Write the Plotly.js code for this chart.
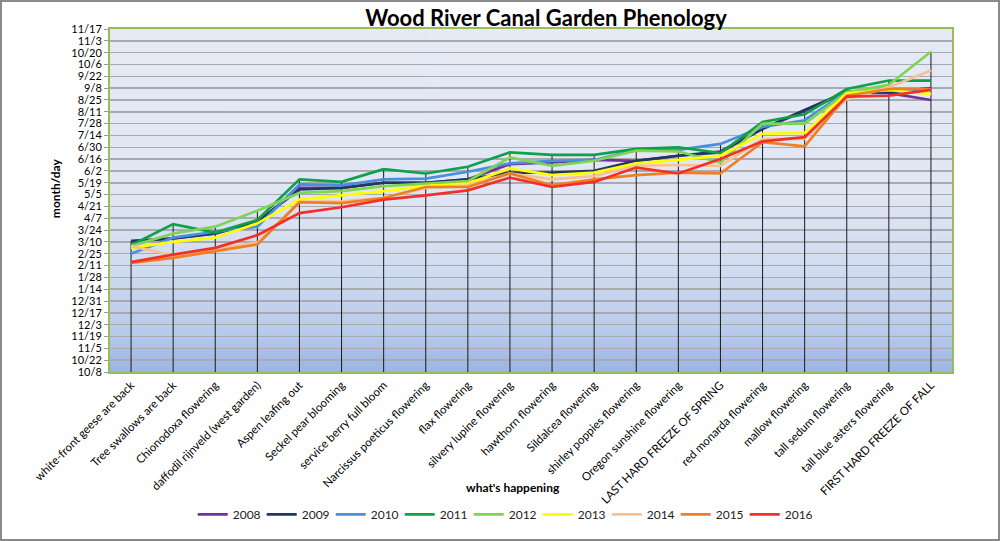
<!DOCTYPE html>
<html>
<head>
<meta charset="utf-8">
<script src="https://cdn.plot.ly/plotly-3.0.1.min.js"></script>
<style>
  html, body { margin: 0; padding: 0; background: #ffffff; }
  #wrap { position: relative; width: 1000px; height: 541px; }
  #chart { width: 1000px; height: 541px; }
  #frame { position: absolute; left: 0; top: 0; width: 1000px; height: 541px; box-sizing: border-box; border: 2px solid #8a8a8a; pointer-events: none; }
</style>
</head>
<body>
<div id="wrap"><div id="chart"></div><div id="frame"></div></div>
<script>
// ---- data ----
const categories = [
  "white-front geese are back",
  "Tree swallows are back",
  "Chionodoxa flowering",
  "daffodil rijnveld (west garden)",
  "Aspen leafing out",
  "Seckel pear blooming",
  "service berry full bloom",
  "Narcissus poeticus flowering",
  "flax flowering",
  "silvery lupine flowering",
  "hawthorn flowering",
  "Sildalcea flowering",
  "shirley poppies flowering",
  "Oregon sunshine flowering",
  "LAST HARD FREEZE OF SPRING",
  "red monarda flowering",
  "mallow flowering",
  "tall sedum flowering",
  "tall blue asters flowering",
  "FIRST HARD FREEZE OF FALL"
];

const years = ["2008","2009","2010","2011","2012","2013","2014","2015","2016"];

// month/day values (plotted on a common calendar year)
const y2008 = ["3/11","3/14","3/20","4/2","5/13","5/13","5/19","5/19","5/23","6/10","6/12","6/15","6/14","6/20","6/24","7/22","8/12","9/3","9/2","8/25"];
const y2009 = ["3/11","3/14","3/20","4/3","5/11","5/13","5/19","5/19","5/23","5/31","5/31","6/2","6/14","6/20","6/25","7/22","8/13","9/4","9/3","9/8"];
const y2010 = ["2/25","3/15","3/22","3/28","5/17","5/16","5/23","5/24","6/1","6/11","6/14","6/15","6/27","6/27","7/4","7/24","8/1","9/4","9/5","9/7"];
const y2011 = ["3/6","3/31","3/21","4/5","5/23","5/20","6/4","5/30","6/7","6/24","6/21","6/21","6/28","6/30","6/23","7/30","8/8","9/7","9/17","9/17"];
const y2012 = ["3/5","3/20","3/28","4/16","5/7","5/9","5/15","5/18","5/21","6/18","6/8","6/14","6/26","6/25","6/12","7/28","7/28","9/3","9/12","10/21"];
const y2013 = ["3/3","3/10","3/15","4/1","4/29","5/4","5/9","5/15","5/18","6/5","5/28","5/31","6/11","6/15","6/20","7/16","7/17","9/2","9/6","9/1"];
const y2014 = ["3/5","2/23","3/2","3/9","4/26","4/27","5/1","5/13","5/16","5/30","5/23","5/27","6/8","6/9","6/8","7/10","7/10","8/26","9/9","9/29"];
const y2015 = ["2/14","2/20","2/28","3/7","4/26","4/25","5/1","5/14","5/14","5/30","5/16","5/23","5/28","5/31","5/30","7/6","7/1","8/30","9/7","9/7"];
const y2016 = ["2/15","2/24","3/3","3/18","4/13","4/20","4/29","5/4","5/10","5/25","5/14","5/20","6/6","5/30","6/16","7/7","7/12","8/29","8/30","9/6"];

const seriesValues = [y2008, y2009, y2010, y2011, y2012, y2013, y2014, y2015, y2016];
const seriesColors = ["#7030a0","#22375f","#4a8fdb","#10a04a","#7fd452","#ffff00","#f9c193","#f07f23","#f2302a"];

// y-axis range (month/day, Oct of previous year to Nov)
const axisStart = "10/8";
const axisEnd = "11/17";

// convert "m/d" to a date string on the plotting calendar (Oct-Dec -> 2007, otherwise 2008)
function toDate(md, isStartSide) {
  const [m, d] = md.split("/").map(Number);
  const yr = (isStartSide && m >= 10) ? 2007 : 2008;
  return yr + "-" + String(m).padStart(2, "0") + "-" + String(d).padStart(2, "0");
}

// ---- gradient background image ----
function gradientURL() {
  const c = document.createElement("canvas");
  c.width = 4; c.height = 400;
  const g = c.getContext("2d");
  const gr = g.createLinearGradient(0, 0, 0, 400);
  gr.addColorStop(0, "#e5eaf5");
  gr.addColorStop(0.45, "#e1e7f4");
  gr.addColorStop(0.7, "#d0dcf1");
  gr.addColorStop(0.88, "#b8cbeb");
  gr.addColorStop(1, "#9ab6e4");
  g.fillStyle = gr;
  g.fillRect(0, 0, 4, 400);
  return c.toDataURL("image/png");
}

const bottomDate = toDate(axisStart, true);
const topDate = toDate(axisEnd, false);

// drop lines: from axis bottom to the highest value at each category
const dropX = [], dropY = [];
categories.forEach((cat, i) => {
  const maxVal = seriesValues.map(s => toDate(s[i], false)).sort().pop();
  dropX.push(cat, cat, null);
  dropY.push(bottomDate, maxVal, null);
});

const traces = [{
  type: "scatter", mode: "lines", x: dropX, y: dropY,
  line: { color: "#1a1a1a", width: 1 }, showlegend: false, hoverinfo: "skip"
}];

years.forEach((yr, i) => {
  traces.push({
    type: "scatter", mode: "lines", name: yr,
    x: categories,
    y: seriesValues[i].map(v => toDate(v, false)),
    line: { color: seriesColors[i], width: 2.7 }
  });
});

const font = "Lato, 'Open Sans', sans-serif";

const layout = {
  width: 1000, height: 541,
  paper_bgcolor: "#ffffff",
  plot_bgcolor: "#e5eaf5",
  margin: { l: 110, r: 48, t: 29, b: 165, pad: 0 },
  title: {
    text: "<b>Wood River Canal Garden Phenology</b>",
    font: { family: font, size: 22, color: "#000" },
    x: 0.546, xanchor: "center", y: 0.966, yanchor: "middle"
  },
  showlegend: true,
  legend: {
    orientation: "h", x: 0.467, xanchor: "center", y: -0.415, yanchor: "middle",
    font: { family: font, size: 12, color: "#222" },
    bgcolor: "rgba(0,0,0,0)", itemwidth: 30, entrywidth: 24, traceorder: "normal"
  },
  xaxis: {
    type: "category", range: [-0.5, categories.length - 0.5],
    tickangle: -45, tickfont: { family: font, size: 11.5, color: "#000" },
    showgrid: false, showline: true, mirror: true, linecolor: "#9bbb59", linewidth: 2,
    ticks: "", zeroline: false, automargin: false
  },
  yaxis: {
    type: "date", range: [bottomDate, topDate],
    tick0: bottomDate, dtick: 14 * 86400000, tickformat: "%-m/%-d",
    tickfont: { family: font, size: 11, color: "#000" },
    showgrid: true, gridcolor: "#a9aab0", gridwidth: 1.5,
    showline: true, mirror: true, linecolor: "#9bbb59", linewidth: 2,
    ticks: "outside", ticklen: 4, tickcolor: "#999", zeroline: false, automargin: false
  },
  annotations: [
    { text: "<b>what's happening</b>", xref: "paper", yref: "paper", x: 0.4786, y: -0.337,
      xanchor: "center", yanchor: "middle", showarrow: false,
      font: { family: font, size: 12, color: "#000" } },
    { text: "<b>month/day</b>", xref: "paper", yref: "paper", x: -0.0653, y: 0.536,
      xanchor: "center", yanchor: "middle", showarrow: false, textangle: -90,
      font: { family: font, size: 12, color: "#000" } }
  ],
  images: [{
    source: gradientURL(), xref: "paper", yref: "paper",
    x: 0, y: 1, sizex: 1, sizey: 1, sizing: "stretch", layer: "below",
    xanchor: "left", yanchor: "top"
  }]
};

Plotly.newPlot("chart", traces, layout, { staticPlot: true, displayModeBar: false });
</script>
</body>
</html>
